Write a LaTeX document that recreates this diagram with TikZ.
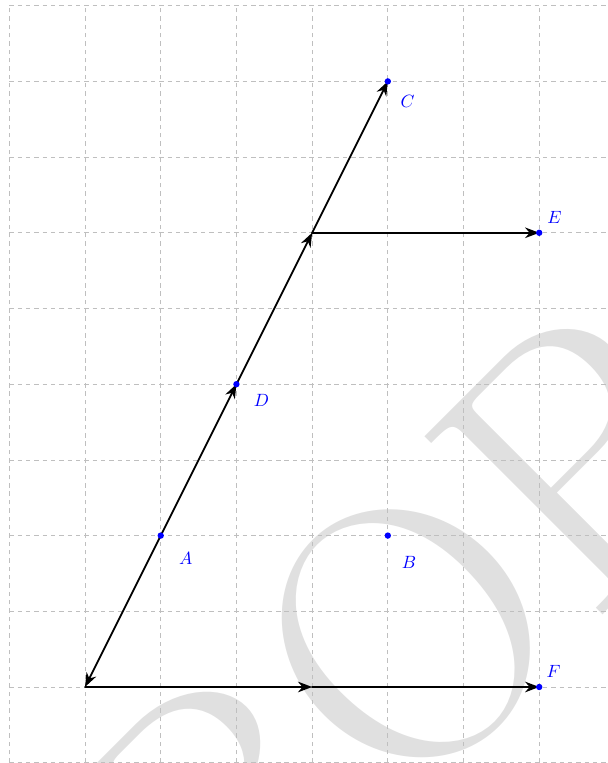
\documentclass[tikz,border=0pt]{standalone}
\usepackage{fontspec}
\usepackage{amsmath}
\usetikzlibrary{arrows.meta}
\usetikzlibrary{calc}

\begin{document}
\begin{tikzpicture}[x=1.5cm,y=1.5cm,>=Stealth,line join=round,line cap=round]
% -------------------------------------------------
% Styles
% -------------------------------------------------
\tikzset{
  gridline/.style={draw=black!25, line width=0.4pt, line cap=butt, dash pattern=on 2.5pt off 2.2pt},
  vecarrow/.style={-{Stealth[length=8pt,width=6pt]}, line width=1pt},
  ptdot/.style={fill=blue,draw=none},
  ptlabel/.style={text=blue,inner sep=0pt,font=\fontsize{10}{10}\selectfont},
  stamp/.style={text=black!12, rotate=45, inner sep=0pt, anchor=base west, font=\fontsize{208}{208}\selectfont},
}
\useasboundingbox (-1.123,-1.004) rectangle (6.896,9.075);
\clip (-1.123,-1.004) rectangle (6.896,9.075);
% -------------------------------------------------
% background
% -------------------------------------------------
\node[stamp] (stamp) at (-0.24,-6.13) {PROPOSITION};
\draw[gridline,step=1.5cm] (-1,-1) grid (7,9);
% -------------------------------------------------
% points
% -------------------------------------------------
\coordinate (O) at (0,0);
\coordinate (A) at (1,2);
\coordinate (B) at (4,2);
\coordinate (C) at (4,8);
\coordinate (D) at (2,4);
\coordinate (E) at (6,6);
\coordinate (F) at (6,0);
\coordinate (M) at (3,6);
\coordinate (N) at (3,0);
% -------------------------------------------------
% vectors
% -------------------------------------------------
\draw[vecarrow] (A) -- (O);
\draw[vecarrow] (A) -- (D);
\draw[vecarrow] (D) -- (M);
\draw[vecarrow] (M) -- (C);
\draw[vecarrow] (M) -- (E);
\draw[vecarrow] (O) -- (N);
\draw[vecarrow] (N) -- (F);
% -------------------------------------------------
% dots and labels
% -------------------------------------------------
\foreach \p in {A,B,C,D,E,F}{
  \fill[ptdot] (\p) circle (1.8pt);
}
\node[ptlabel] (lA) at ($(A)+(0.33,-0.30)$) {$A$};
\node[ptlabel] (lB) at ($(B)+(0.28,-0.36)$) {$B$};
\node[ptlabel] (lC) at ($(C)+(0.26,-0.26)$) {$C$};
\node[ptlabel] (lD) at ($(D)+(0.33,-0.21)$) {$D$};
\node[ptlabel] (lE) at ($(E)+(0.20,0.20)$) {$E$};
\node[ptlabel] (lF) at ($(F)+(0.19,0.20)$) {$F$};

\end{tikzpicture}
\end{document}
